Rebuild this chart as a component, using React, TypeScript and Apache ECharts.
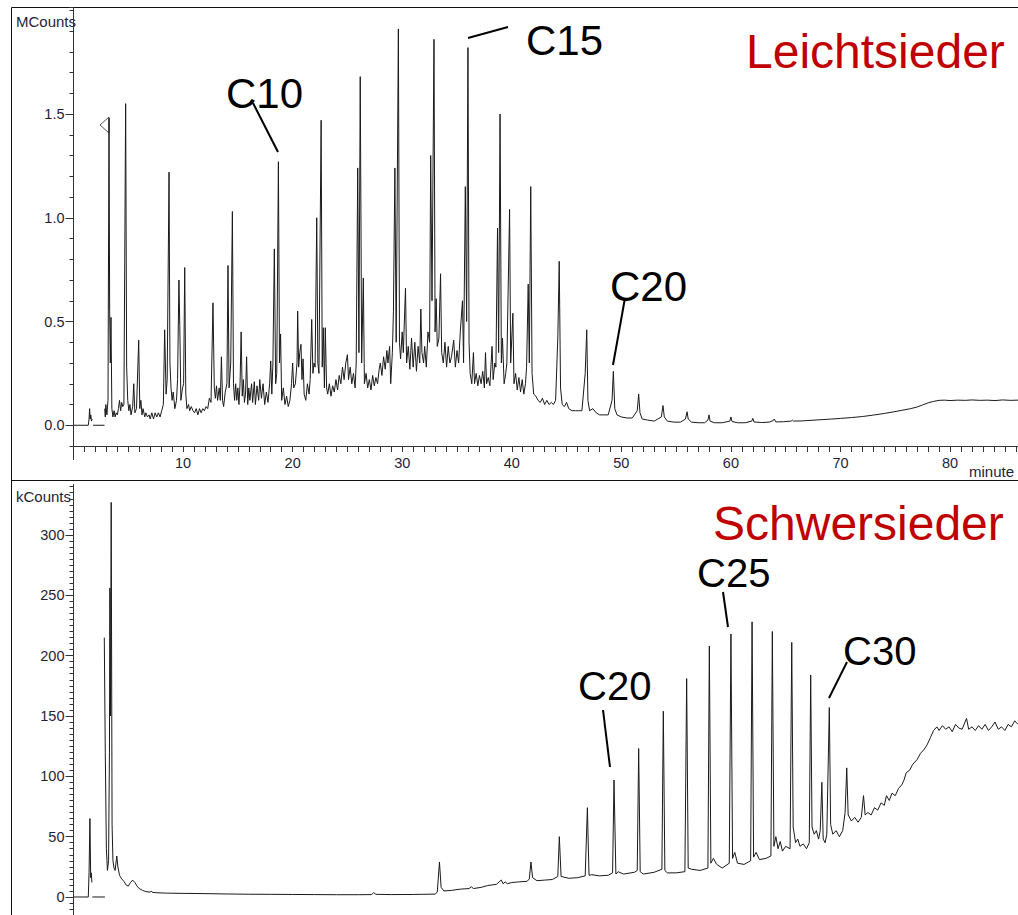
import { useEffect, useRef } from "react";
import * as echarts from "echarts";

// ---------- DATA ----------
// Upper chromatogram "Leichtsieder": [minute, MCounts]
const leichtPreGap: [number, number][] = [
  [0, 0], [1.35, 0], [1.42, 0.03], [1.47, 0.08], [1.52, 0.03], [1.58, 0.05], [1.64, 0.02], [1.7, 0.03],
];
const leichtDash: [number, number][] = [[1.78, 0], [2.83, 0]];
const leichtTrace: [number, number][] = [
  [2.85, 0.08], [2.9, 0.04], [2.95, 0.1], [3.05, 0.05], [3.15, 0.12], [3.24, 1.48], [3.3, 0.55], [3.36, 0.3], [3.42, 0.52],
  [3.5, 0.08], [3.6, 0.04], [3.7, 0.07], [3.8, 0.04], [3.9, 0.06], [4.0, 0.05], [4.1, 0.08], [4.2, 0.12], [4.3, 0.07],
  [4.4, 0.11], [4.5, 0.09], [4.6, 0.1], [4.76, 1.55], [4.85, 0.28], [4.95, 0.12], [5.05, 0.07], [5.15, 0.1], [5.25, 0.05],
  [5.4, 0.09], [5.5, 0.2], [5.6, 0.06], [5.75, 0.08], [5.95, 0.41], [6.05, 0.08], [6.15, 0.12], [6.25, 0.05], [6.35, 0.08],
  [6.5, 0.04], [6.6, 0.06], [6.75, 0.04], [6.9, 0.05], [7.0, 0.03], [7.15, 0.06], [7.3, 0.03], [7.45, 0.06], [7.6, 0.04],
  [7.75, 0.06], [7.9, 0.04], [8.05, 0.07], [8.2, 0.1], [8.32, 0.46], [8.45, 0.15], [8.55, 0.22], [8.72, 1.22], [8.8, 0.3],
  [8.9, 0.18], [9.0, 0.12], [9.1, 0.16], [9.25, 0.08], [9.4, 0.12], [9.5, 0.22], [9.62, 0.7], [9.7, 0.48], [9.8, 0.12],
  [9.95, 0.18], [10.05, 0.2], [10.15, 0.76], [10.25, 0.15], [10.35, 0.08], [10.5, 0.1], [10.6, 0.07], [10.75, 0.09],
  [10.9, 0.07], [11.05, 0.06], [11.2, 0.08], [11.35, 0.05], [11.5, 0.08], [11.65, 0.06], [11.8, 0.08], [11.95, 0.07],
  [12.1, 0.09], [12.25, 0.08], [12.4, 0.13], [12.55, 0.11], [12.73, 0.59], [12.85, 0.18], [12.95, 0.13], [13.05, 0.19],
  [13.15, 0.12], [13.3, 0.18], [13.4, 0.12], [13.5, 0.33], [13.6, 0.12], [13.7, 0.09], [13.85, 0.16], [14.0, 0.2],
  [14.1, 0.77], [14.2, 0.18], [14.35, 0.3], [14.5, 1.03], [14.6, 0.2], [14.7, 0.12], [14.8, 0.2], [14.9, 0.12], [15.0, 0.18],
  [15.1, 0.1], [15.2, 0.2], [15.3, 0.45], [15.4, 0.14], [15.5, 0.22], [15.6, 0.11], [15.7, 0.15], [15.8, 0.33], [15.9, 0.1],
  [16.0, 0.18], [16.1, 0.12], [16.25, 0.2], [16.35, 0.11], [16.5, 0.21], [16.6, 0.1], [16.75, 0.19], [16.9, 0.12],
  [17.0, 0.22], [17.15, 0.13], [17.3, 0.2], [17.45, 0.1], [17.6, 0.16], [17.75, 0.11], [17.9, 0.2], [18.0, 0.31],
  [18.1, 0.15], [18.2, 0.3], [18.33, 0.85], [18.45, 0.2], [18.55, 0.25], [18.7, 1.27], [18.8, 0.3], [18.9, 0.44], [19.0, 0.12],
  [19.15, 0.18], [19.3, 0.1], [19.45, 0.14], [19.6, 0.09], [19.75, 0.12], [19.9, 0.2], [20.0, 0.3], [20.1, 0.18],
  [20.25, 0.2], [20.4, 0.3], [20.46, 0.55], [20.55, 0.28], [20.65, 0.35], [20.76, 0.39], [20.85, 0.22], [20.95, 0.32],
  [21.05, 0.15], [21.2, 0.12], [21.35, 0.2], [21.5, 0.15], [21.6, 0.22], [21.74, 0.51], [21.85, 0.25], [21.95, 0.3],
  [22.05, 0.28], [22.2, 1.0], [22.3, 0.3], [22.4, 0.25], [22.6, 1.47], [22.7, 0.28], [22.8, 0.47], [22.9, 0.18], [22.98, 0.47],
  [23.1, 0.18], [23.2, 0.15], [23.35, 0.2], [23.5, 0.14], [23.65, 0.19], [23.8, 0.16], [23.95, 0.22], [24.1, 0.17],
  [24.25, 0.24], [24.4, 0.2], [24.55, 0.28], [24.7, 0.22], [24.85, 0.3], [25.0, 0.34], [25.1, 0.22], [25.25, 0.28],
  [25.4, 0.2], [25.55, 0.25], [25.7, 0.18], [25.8, 0.3], [25.94, 1.24], [26.05, 0.35], [26.17, 1.68], [26.3, 0.3],
  [26.45, 0.71], [26.55, 0.2], [26.7, 0.25], [26.85, 0.18], [27.0, 0.22], [27.15, 0.17], [27.3, 0.24], [27.45, 0.19],
  [27.6, 0.23], [27.75, 0.2], [27.9, 0.27], [28.0, 0.3], [28.15, 0.24], [28.3, 0.33], [28.45, 0.27], [28.6, 0.36],
  [28.7, 0.3], [28.85, 0.38], [28.95, 0.2], [29.1, 0.35], [29.2, 0.55], [29.33, 1.24], [29.45, 0.4], [29.65, 1.91],
  [29.75, 0.4], [29.85, 0.32], [30.0, 0.45], [30.1, 0.35], [30.3, 0.66], [30.4, 0.3], [30.55, 0.38], [30.7, 0.27],
  [30.85, 0.42], [31.0, 0.28], [31.15, 0.4], [31.3, 0.26], [31.45, 0.38], [31.6, 0.3], [31.7, 0.56], [31.8, 0.35],
  [31.95, 0.3], [32.05, 0.38], [32.2, 0.28], [32.35, 0.45], [32.5, 0.4], [32.6, 1.3], [32.72, 0.6], [32.9, 1.86],
  [33.0, 0.45], [33.1, 0.61], [33.2, 0.38], [33.35, 0.42], [33.5, 0.73], [33.6, 0.35], [33.75, 0.3], [33.9, 0.4],
  [34.05, 0.28], [34.2, 0.38], [34.35, 0.3], [34.5, 0.33], [34.7, 0.41], [34.85, 0.28], [35.0, 0.36], [35.15, 0.3],
  [35.3, 0.45], [35.5, 0.6], [35.6, 0.3], [35.76, 1.15], [35.88, 0.5], [36.0, 1.82], [36.1, 0.4], [36.2, 0.25],
  [36.35, 0.2], [36.5, 0.35], [36.6, 0.2], [36.75, 0.25], [36.9, 0.19], [37.05, 0.24], [37.2, 0.2], [37.35, 0.26],
  [37.5, 0.18], [37.6, 0.35], [37.7, 0.2], [37.85, 0.23], [38.0, 0.19], [38.2, 0.38], [38.3, 0.22], [38.45, 0.3],
  [38.55, 0.28], [38.7, 0.95], [38.8, 0.35], [38.93, 1.5], [39.05, 0.3], [39.15, 0.42], [39.3, 0.2], [39.45, 0.25],
  [39.55, 0.3], [39.8, 1.04], [39.9, 0.3], [40.1, 0.54], [40.2, 0.2], [40.35, 0.25], [40.5, 0.17], [40.65, 0.23],
  [40.8, 0.16], [40.95, 0.22], [41.1, 0.15], [41.25, 0.2], [41.35, 0.28], [41.5, 0.68], [41.6, 0.3], [41.73, 1.15],
  [41.85, 0.25], [42.0, 0.15], [42.2, 0.14], [42.4, 0.12], [42.6, 0.11], [42.8, 0.13], [43.0, 0.1], [43.2, 0.12],
  [43.4, 0.1], [43.6, 0.11], [43.8, 0.1], [44.0, 0.12], [44.2, 0.42], [44.33, 0.79], [44.45, 0.18], [44.6, 0.1],
  [44.8, 0.09], [45.0, 0.11], [45.2, 0.08], [45.5, 0.07], [45.8, 0.07], [46.1, 0.07], [46.4, 0.07], [46.7, 0.25],
  [46.84, 0.46], [46.95, 0.12], [47.1, 0.07], [47.4, 0.08], [47.7, 0.06], [48.0, 0.05], [48.4, 0.05], [48.8, 0.05],
  [49.15, 0.12], [49.27, 0.26], [49.4, 0.08], [49.6, 0.05], [50.0, 0.04], [50.5, 0.035], [51.0, 0.035], [51.45, 0.07],
  [51.58, 0.15], [51.7, 0.06], [51.9, 0.03], [52.4, 0.025], [53.0, 0.02], [53.65, 0.04], [53.8, 0.095], [53.92, 0.04],
  [54.2, 0.02], [54.8, 0.015], [55.4, 0.015], [55.85, 0.03], [56.0, 0.065], [56.1, 0.03], [56.4, 0.015], [57.0, 0.012],
  [57.6, 0.012], [57.9, 0.025], [58.0, 0.05], [58.1, 0.02], [58.5, 0.012], [59.2, 0.012], [59.9, 0.02], [60.0, 0.04],
  [60.1, 0.018], [60.6, 0.012], [61.3, 0.012], [61.9, 0.02], [62.0, 0.033], [62.1, 0.016], [62.8, 0.013], [63.5, 0.015],
  [63.85, 0.022], [63.95, 0.03], [64.1, 0.016], [64.8, 0.017], [65.5, 0.02], [65.6, 0.025], [65.7, 0.02], [66.5, 0.021],
  [67.4, 0.024], [68.3, 0.027], [69.2, 0.03], [70.0, 0.033], [71.0, 0.037], [72.0, 0.042], [73.0, 0.049], [74.0, 0.057],
  [74.8, 0.064], [75.6, 0.072], [76.4, 0.08], [77.0, 0.088], [77.5, 0.098], [78.0, 0.108], [78.5, 0.115], [79.0, 0.12],
  [79.5, 0.121], [80.0, 0.119], [80.7, 0.121], [81.4, 0.12], [82.0, 0.122], [82.7, 0.12], [83.4, 0.121], [84.1, 0.119],
  [84.8, 0.122], [85.5, 0.12], [86.2, 0.121],
];

// Lower chromatogram "Schwersieder": [minute, kCounts]
const schwerPreGap: [number, number][] = [
  [0, 0], [1.35, 0], [1.42, 20], [1.5, 65], [1.57, 16], [1.62, 20], [1.68, 12],
];
const schwerDash: [number, number][] = [[1.72, 0], [2.87, 0]];
const schwerTrace: [number, number][] = [
  [2.81, 215], [2.9, 120], [3.0, 40], [3.1, 22], [3.2, 30], [3.28, 120], [3.32, 256], [3.38, 150], [3.44, 327],
  [3.52, 60], [3.6, 30], [3.7, 24], [3.8, 22], [3.95, 34], [4.05, 25], [4.2, 18], [4.4, 15], [4.6, 13], [4.8, 10],
  [5.0, 9], [5.2, 12], [5.4, 14], [5.6, 12], [5.8, 9], [6.0, 7], [6.3, 5.5], [6.6, 4.5], [7.0, 4], [7.1, 5], [7.2, 3.8],
  [7.6, 3.5], [8.5, 3.2], [10, 3], [12, 2.8], [14, 2.5], [16, 2.3], [18, 2.2], [20, 2.1], [22, 2], [24, 1.9], [26, 1.9],
  [27.2, 2], [27.4, 3.6], [27.6, 2.2], [29, 2], [31, 2.1], [33, 2.4], [33.2, 4], [33.4, 29], [33.55, 8], [33.8, 5],
  [34.5, 5.5], [35.3, 6.5], [36.1, 7], [36.3, 8.5], [36.5, 7], [37.2, 8], [37.8, 9.5], [38.2, 10], [38.6, 10.5],
  [38.9, 13], [39.05, 14], [39.2, 11], [39.4, 12.5], [39.6, 11], [40, 12], [40.6, 12.5], [41.4, 13], [41.6, 15],
  [41.75, 29], [41.9, 16], [42.3, 13.5], [43, 14], [43.7, 14.5], [44.2, 17], [44.34, 50], [44.5, 17], [45.2, 15.5],
  [46, 16], [46.7, 17.5], [46.9, 74], [47.05, 18], [47.3, 18.5], [48, 17.5], [48.8, 18], [49.2, 20], [49.33, 97],
  [49.5, 19], [49.7, 21], [50.2, 19], [51.2, 20.5], [51.45, 22], [51.58, 123], [51.72, 21], [52.0, 19], [53.0, 20.5],
  [53.7, 23], [53.83, 154], [53.97, 22], [54.2, 20], [55.0, 20], [55.8, 21], [55.96, 181], [56.1, 24], [56.4, 23],
  [57.2, 22], [57.9, 24], [58.03, 208], [58.17, 28], [58.4, 32], [58.7, 27], [59.2, 24], [59.85, 28], [60.0, 218],
  [60.15, 32], [60.35, 37], [60.6, 28], [61.2, 27], [61.8, 30], [61.93, 228], [62.07, 33], [62.3, 37], [62.6, 31],
  [63.2, 32], [63.65, 34], [63.78, 220], [63.92, 42], [64.1, 50], [64.3, 40], [64.5, 46], [64.7, 38], [65.0, 42],
  [65.4, 40], [65.55, 211], [65.68, 58], [65.9, 45], [66.1, 48], [66.3, 42], [66.6, 44], [66.9, 40], [67.15, 45],
  [67.28, 184], [67.4, 58], [67.6, 52], [67.8, 55], [68.0, 48], [68.15, 55], [68.3, 95], [68.42, 48], [68.6, 45],
  [68.75, 52], [68.98, 157], [69.1, 60], [69.3, 52], [69.6, 55], [69.9, 50], [70.2, 55], [70.42, 70], [70.57, 107],
  [70.7, 68], [71.0, 63], [71.3, 66], [71.6, 62], [71.9, 66], [72.1, 84], [72.25, 68], [72.5, 70], [72.8, 68],
  [73.1, 74], [73.4, 72], [73.7, 78], [74.0, 76], [74.2, 84], [74.45, 80], [74.7, 86], [75.0, 84], [75.3, 90],
  [75.6, 93], [75.8, 97], [76.0, 103], [76.3, 105], [76.6, 110], [77.0, 114], [77.3, 119], [77.6, 122], [77.9, 126],
  [78.2, 132], [78.5, 138], [78.8, 141], [79.0, 138], [79.3, 142], [79.6, 139], [79.9, 141], [80.2, 137], [80.5, 143],
  [80.8, 140], [81.1, 139], [81.5, 148], [81.7, 139], [82.0, 141], [82.3, 138], [82.6, 142], [82.9, 139], [83.2, 143],
  [83.5, 138], [83.8, 141], [84.1, 145], [84.4, 139], [84.7, 141], [85.0, 138], [85.3, 143], [85.6, 141], [85.9, 146],
  [86.2, 143],
];

// Axis tick labels
const minuteLabels = [10, 20, 30, 40, 50, 60, 70, 80];
const mCountLabels = [0, 0.5, 1.0, 1.5];
const kCountLabels = [0, 50, 100, 150, 200, 250, 300];

// Peak annotations (texts)
const leichtPeakNames = ["C10", "C15", "C20"];
const schwerPeakNames = ["C20", "C25", "C30"];

// ---------- helpers for axis ticks ----------
function steps(from: number, to: number, step: number, digits: number): number[] {
  const out: number[] = [];
  const n = Math.round((to - from) / step);
  for (let i = 0; i <= n; i++) out.push(Number((from + i * step).toFixed(digits)));
  return out;
}

const FONT = '"Liberation Sans", Arial, sans-serif';
const TICK_COLOR = "#1e1e3a";
const AXIS_COLOR = "#333";

export default function App() {
  const ref = useRef<HTMLDivElement>(null);

  useEffect(() => {
    document.body.style.margin = "0";
    document.body.style.overflow = "hidden";
    if (!ref.current) return;
    const chart = echarts.init(ref.current, null, { renderer: "svg" });

    const topGrid = { left: 73.5, top: 10.25, width: 944.5, height: 435.75 };
    const botGrid = { left: 73.5, top: 486.7, width: 944.5, height: 428.4 };

    const yCommon = (gridIndex: number, min: number, max: number) => ({
      type: "value" as const,
      gridIndex,
      min,
      max,
      position: "left" as const,
      splitLine: { show: false },
      axisLine: { show: true, lineStyle: { color: AXIS_COLOR, width: 1 } },
    });

    const textEl = (text: string, x: number, y: number, size: number, fill = "#000") => ({
      type: "text",
      x,
      y,
      style: { text, fontSize: size, fontFamily: FONT, fill, align: "left", verticalAlign: "middle" },
    });
    const lineEl = (x1: number, y1: number, x2: number, y2: number, w = 2, stroke = "#000") => ({
      type: "line",
      shape: { x1, y1, x2, y2 },
      style: { stroke, lineWidth: w },
    });

    const traceStyle = { color: "#1a1a1a", width: 1 };
    const lineSeries = (data: [number, number][], xi: number, yi: number) => ({
      type: "line" as const,
      data,
      xAxisIndex: xi,
      yAxisIndex: yi,
      showSymbol: false,
      symbol: "none",
      lineStyle: traceStyle,
      itemStyle: { color: "#1a1a1a" },
      silent: true,
    });

    chart.setOption({
      animation: false,
      backgroundColor: "#fff",
      grid: [
        { ...topGrid, containLabel: false, outerBoundsMode: "none" },
        { ...botGrid, containLabel: false, outerBoundsMode: "none" },
      ],
      xAxis: [
        {
          type: "value",
          gridIndex: 0,
          min: 0,
          max: 86.2,
          splitLine: { show: false },
          axisLine: { show: true, onZero: false, lineStyle: { color: AXIS_COLOR, width: 1 } },
          axisTick: { show: true, length: 6, customValues: steps(1, 86, 1, 0), lineStyle: { color: AXIS_COLOR } },
          axisLabel: {
            show: true,
            customValues: minuteLabels,
            margin: 9,
            fontSize: 14.5,
            fontFamily: FONT,
            color: TICK_COLOR,
          },
        },
        {
          type: "value",
          gridIndex: 1,
          min: 0,
          max: 86.2,
          show: false,
        },
      ],
      yAxis: [
        {
          ...yCommon(0, -0.1, 2.0),
          axisTick: { show: true, length: 4, customValues: steps(-0.1, 2.0, 0.1, 1), lineStyle: { color: AXIS_COLOR } },
          axisLabel: { show: false },
        },
        {
          ...yCommon(0, -0.1, 2.0),
          axisLine: { show: false },
          axisTick: { show: true, length: 8, customValues: mCountLabels, lineStyle: { color: AXIS_COLOR } },
          axisLabel: {
            show: true,
            customValues: mCountLabels,
            formatter: (v: number) => v.toFixed(1),
            margin: 9,
            fontSize: 14.5,
            fontFamily: FONT,
            color: TICK_COLOR,
          },
        },
        {
          ...yCommon(1, -15, 340),
          axisTick: { show: true, length: 4, customValues: steps(-15, 340, 5, 0), lineStyle: { color: AXIS_COLOR } },
          axisLabel: { show: false },
        },
        {
          ...yCommon(1, -15, 340),
          axisLine: { show: false },
          axisTick: { show: true, length: 8, customValues: kCountLabels, lineStyle: { color: AXIS_COLOR } },
          axisLabel: {
            show: true,
            customValues: kCountLabels,
            margin: 9,
            fontSize: 14.5,
            fontFamily: FONT,
            color: TICK_COLOR,
          },
        },
      ],
      series: [
        lineSeries(leichtPreGap, 0, 0),
        lineSeries(leichtDash, 0, 0),
        lineSeries(leichtTrace, 0, 0),
        lineSeries(schwerPreGap, 1, 2),
        lineSeries(schwerDash, 1, 2),
        lineSeries(schwerTrace, 1, 2),
      ],
      graphic: [
        // frames
        lineEl(11.5, 7.5, 1018, 7.5, 1, "#111"),
        lineEl(11.5, 7.5, 11.5, 915, 1, "#111"),
        lineEl(11.5, 480.5, 1018, 480.5, 1, "#111"),
        // axis extensions
        lineEl(73.5, 7, 73.5, 10.5, 1, AXIS_COLOR),
        lineEl(69, 7.5, 73.5, 7.5, 1, AXIS_COLOR),
        lineEl(73.5, 446, 73.5, 460, 1, AXIS_COLOR),
        lineEl(73.5, 484, 73.5, 487, 1, AXIS_COLOR),
        // unit labels
        textEl("MCounts", 16, 21, 15, "#1e1e3a"),
        textEl("kCounts", 16, 496, 15, "#1e1e3a"),
        textEl("minute", 969, 471, 15, "#1e1e3a"),
        // marker triangle
        {
          type: "polygon",
          shape: { points: [[109, 117], [100, 125], [109, 133]] },
          style: { fill: "none", stroke: "#555", lineWidth: 1 },
        },
        // titles
        textEl("Leichtsieder", 746, 51, 48, "#C00000"),
        textEl("Schwersieder", 713, 523, 48, "#C00000"),
        // top annotations
        textEl(leichtPeakNames[0], 226, 93, 42),
        lineEl(253, 103, 278, 152),
        textEl(leichtPeakNames[1], 526, 40, 42),
        lineEl(468, 38, 508, 27),
        textEl(leichtPeakNames[2], 610, 286, 42),
        lineEl(625, 298, 613, 365),
        // bottom annotations
        textEl(schwerPeakNames[0], 578, 686, 40),
        lineEl(603, 710, 610, 767),
        textEl(schwerPeakNames[1], 697, 573, 40),
        lineEl(723, 592, 728, 627),
        textEl(schwerPeakNames[2], 843, 651, 40),
        lineEl(847, 662, 829, 698),
      ],
    });

    return () => chart.dispose();
  }, []);

  return <div ref={ref} style={{ width: 1018, height: 915 }} />;
}
